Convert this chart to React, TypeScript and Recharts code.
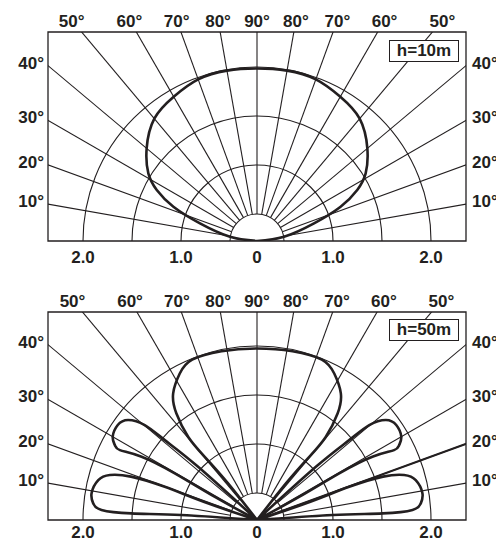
import {
  ComposedChart,
  Line,
  XAxis,
  YAxis,
  ReferenceLine,
  ReferenceDot,
  ReferenceArea,
} from "recharts";

const INK = "#231f20";
const FONT = "'Liberation Sans', Arial, Helvetica, sans-serif";

// frame half-width, in scale units measured from the pole
const HALF_SPAN = 2.1327;
const PX_PER_UNIT = 98;

// distance scale: the rings are labelled 0.5 .. 2.0, the pole sits at 0.2245
const POLE_VALUE = 0.2245;
const RING_VALUES = [0.5, 1.0, 1.5, 2.0];
const SCALE_VALUES = [-2.0, -1.0, 0, 1.0, 2.0];
const SCALE_LABELS = ["2.0", "1.0", "0", "1.0", "2.0"];

// angular grid, degrees from the right-hand horizon
const RADIAL_ANGLES = [10, 20, 30, 40, 50, 60, 70, 80, 90, 100, 110, 120, 130, 140, 150, 160, 170];
const TOP_ANGLES = [130, 120, 110, 100, 90, 80, 70, 60, 50];
const TOP_LABELS = ["50°", "60°", "70°", "80°", "90°", "80°", "70°", "60°", "50°"];
const SIDE_ANGLES = [10, 20, 30, 40];
const SIDE_LABELS = ["10°", "20°", "30°", "40°"];

// h = 10 m : one broad lobe (distance from the pole)
const H10_ANGLE = [0, 9, 17.2, 22.3, 27, 31.9, 40, 50, 60, 70, 80, 90, 100, 110, 120, 130, 140, 148.1, 153, 157.7, 162.8, 171, 180];
const H10_DIST = [0, 0.279, 0.609, 0.922, 1.148, 1.306, 1.47, 1.63, 1.7, 1.755, 1.765, 1.76, 1.765, 1.755, 1.7, 1.63, 1.47, 1.306, 1.148, 0.922, 0.609, 0.279, 0];

// h = 50 m : main lobe, then the left-hand side lobes (pattern symmetric about 90°)
const H50_MAIN_ANGLE = [51.7, 51.7, 50.4, 50.4, 52.9, 56.5, 62.2, 68, 78.1, 90, 101.9, 112, 117.8, 123.5, 127.1, 129.6, 129.6, 128.3, 128.3];
const H50_MAIN_DIST = [0, 0.48, 0.84, 1.1, 1.365, 1.55, 1.69, 1.765, 1.76, 1.75, 1.76, 1.765, 1.69, 1.55, 1.365, 1.1, 0.84, 0.48, 0];
const H50_MID_ANGLE = [151.2, 151.2, 150.4, 151.3, 153, 152.2, 150, 145.7, 142.2, 139.8, 139.1, 137.9, 137.9];
const H50_MID_DIST = [0, 0.49, 0.965, 1.35, 1.57, 1.64, 1.7, 1.72, 1.665, 1.5, 1.245, 0.81, 0];
const H50_LOW_ANGLE = [176.2, 176.2, 177, 176.3, 174.2, 170.8, 165.9, 163, 161, 160.2, 161.2, 161.2];
const H50_LOW_DIST = [0, 0.775, 1.285, 1.59, 1.68, 1.71, 1.67, 1.57, 1.36, 1.0, 0.53, 0];

const rad = (a: number) => (a * Math.PI) / 180;
const toPoints = (angles: number[], dists: number[]) =>
  angles.map((a, i) => ({ x: dists[i] * Math.cos(rad(a)), y: dists[i] * Math.sin(rad(a)) }));
const mirror = (angles: number[]) => angles.map((a) => 180 - a);

const H10_CURVES = [toPoints(H10_ANGLE, H10_DIST)];
const H50_CURVES = [
  toPoints(H50_MAIN_ANGLE, H50_MAIN_DIST),
  toPoints(H50_MID_ANGLE, H50_MID_DIST),
  toPoints(mirror(H50_MID_ANGLE), H50_MID_DIST),
  toPoints(H50_LOW_ANGLE, H50_LOW_DIST),
  toPoints(mirror(H50_LOW_ANGLE), H50_LOW_DIST),
];

const TICK = { fill: INK, fontSize: 17, fontWeight: 700, fontFamily: FONT };

const scaleTicks = SCALE_VALUES.map((v) => (v === 0 ? 0 : Math.sign(v) * (Math.abs(v) - POLE_VALUE)));

function Panel({
  curves,
  tag,
  plotH,
  bottomH,
  bottomGap,
  tagTop,
  boldRay,
}: {
  curves: { x: number; y: number }[][];
  tag: string;
  plotH: number;
  bottomH: number;
  bottomGap: number;
  tagTop: number;
  boldRay?: number;
}) {
  const height = 24 + plotH + bottomH;
  const top = plotH / PX_PER_UNIT;
  const labelHeight = top * 1.057;
  const topTicks = TOP_ANGLES.map((a) => (labelHeight * Math.cos(rad(a))) / Math.sin(rad(a)));
  const sideTicks = SIDE_ANGLES.map((a) => HALF_SPAN * Math.tan(rad(a)));
  return (
    <div style={{ position: "relative", width: 496, height }}>
      <ComposedChart width={496} height={height} margin={{ top: 24, right: 0, bottom: 0, left: 0 }}>
        <XAxis
          dataKey="x"
          type="number"
          domain={[-HALF_SPAN, HALF_SPAN]}
          allowDataOverflow
          ticks={scaleTicks}
          interval={0}
          tickFormatter={(_v: number, i: number) => SCALE_LABELS[i]}
          axisLine={false}
          tickLine={false}
          tickSize={0}
          tickMargin={bottomGap}
          height={bottomH}
          tick={TICK}
        />
        <YAxis
          type="number"
          domain={[0, top]}
          allowDataOverflow
          ticks={sideTicks}
          interval={0}
          tickFormatter={(_v: number, i: number) => SIDE_LABELS[i]}
          axisLine={false}
          tickLine={false}
          tickSize={0}
          tickMargin={4}
          width={40}
          tick={{ ...TICK, dy: -3 }}
        />
        <YAxis
          yAxisId="right"
          orientation="right"
          type="number"
          domain={[0, top]}
          allowDataOverflow
          ticks={sideTicks}
          interval={0}
          tickFormatter={(_v: number, i: number) => SIDE_LABELS[i]}
          axisLine={false}
          tickLine={false}
          tickSize={0}
          tickMargin={6}
          width={38}
          tick={{ ...TICK, dy: -3 }}
        />

        {RING_VALUES.map((v) => (
          <ReferenceDot
            key={`ring-${v}`}
            x={0}
            y={0}
            r={(v - POLE_VALUE) * PX_PER_UNIT}
            fill="none"
            stroke={INK}
            strokeWidth={1.1}
            ifOverflow="hidden"
          />
        ))}
        {RADIAL_ANGLES.map((a) => {
          const inner = RING_VALUES[0] - POLE_VALUE;
          return (
            <ReferenceLine
              key={`ray-${a}`}
              segment={[
                { x: inner * Math.cos(rad(a)), y: inner * Math.sin(rad(a)) },
                { x: 4 * Math.cos(rad(a)), y: 4 * Math.sin(rad(a)) },
              ]}
              stroke={INK}
              strokeWidth={1.1}
              ifOverflow="hidden"
            />
          );
        })}
        {boldRay !== undefined && (
          <ReferenceLine
            segment={[
              { x: 0, y: 0 },
              { x: 4 * Math.cos(rad(boldRay)), y: 4 * Math.sin(rad(boldRay)) },
            ]}
            stroke={INK}
            strokeWidth={2}
            ifOverflow="hidden"
          />
        )}
        <ReferenceArea
          x1={-HALF_SPAN}
          x2={HALF_SPAN}
          y1={0}
          y2={top}
          fill="none"
          fillOpacity={0}
          stroke={INK}
          strokeWidth={1.3}
          ifOverflow="visible"
        />
        {topTicks.map((tx, i) => (
          <ReferenceDot
            key={`top-${i}`}
            x={tx}
            y={top}
            r={0}
            fill="none"
            stroke="none"
            ifOverflow="visible"
            label={{ value: TOP_LABELS[i], position: "top", offset: 5, ...TICK }}
          />
        ))}
        {curves.map((pts, i) => (
          <Line
            key={`curve-${i}`}
            data={pts}
            dataKey="y"
            type="natural"
            stroke={INK}
            strokeWidth={2.6}
            dot={false}
            activeDot={false}
            isAnimationActive={false}
          />
        ))}
      </ComposedChart>
      <div
        style={{
          position: "absolute",
          left: 381,
          top: tagTop,
          width: 70,
          height: 22,
          boxSizing: "border-box",
          border: `1.3px solid ${INK}`,
          background: "#fff",
          color: INK,
          fontFamily: FONT,
          fontWeight: 700,
          fontSize: 17,
          lineHeight: "19px",
          textAlign: "center",
        }}
      >
        {tag}
      </div>
    </div>
  );
}

export default function App() {
  return (
    <div style={{ width: 496 }}>
      <Panel curves={H10_CURVES} tag="h=10m" plotH={209} bottomH={47} bottomGap={10} tagTop={32} />
      <Panel curves={H50_CURVES} tag="h=50m" plotH={208} bottomH={22} bottomGap={6} tagTop={31} boldRay={20} />
    </div>
  );
}
